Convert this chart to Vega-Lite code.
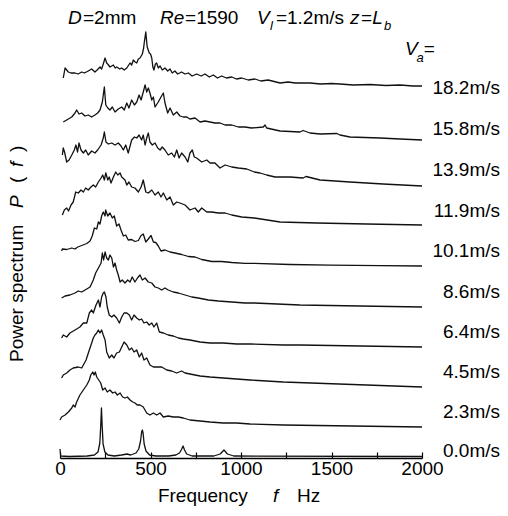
{
"$schema":"https://vega.github.io/schema/vega-lite/v6.json",
"width":362,"height":458,
"autosize":{"type":"none"},
"padding":{"left":60,"top":0,"right":86,"bottom":58},
"config":{"view":{"stroke":null},"text":{"font":"Liberation Sans","fontSize":19,"color":"black","align":"left","baseline":"alphabetic"}},
"datasets":{
"labels":[{"Va":"18.2m/s","level":370},{"Va":"15.8m/s","level":329},{"Va":"13.9m/s","level":288},{"Va":"11.9m/s","level":247},{"Va":"10.1m/s","level":207},{"Va":"8.6m/s","level":166},{"Va":"6.4m/s","level":126},{"Va":"4.5m/s","level":86},{"Va":"2.3m/s","level":46},{"Va":"0.0m/s","level":7}],
"spectra":[
{"Va":"18.2","f":18,"P":380},{"Va":"18.2","f":28,"P":390},{"Va":"18.2","f":37,"P":388},{"Va":"18.2","f":46,"P":386},{"Va":"18.2","f":60,"P":385},{"Va":"18.2","f":83,"P":385},{"Va":"18.2","f":100,"P":384},{"Va":"18.2","f":120,"P":386},{"Va":"18.2","f":135,"P":385},{"Va":"18.2","f":156,"P":387},{"Va":"18.2","f":175,"P":389},{"Va":"18.2","f":193,"P":386},{"Va":"18.2","f":205,"P":388},{"Va":"18.2","f":221,"P":391},{"Va":"18.2","f":230,"P":389},{"Va":"18.2","f":239,"P":394},{"Va":"18.2","f":249,"P":400},{"Va":"18.2","f":258,"P":395},{"Va":"18.2","f":268,"P":393},{"Va":"18.2","f":276,"P":391},{"Va":"18.2","f":295,"P":393},{"Va":"18.2","f":305,"P":390},{"Va":"18.2","f":313,"P":391},{"Va":"18.2","f":330,"P":389},{"Va":"18.2","f":341,"P":390},{"Va":"18.2","f":355,"P":388},{"Va":"18.2","f":369,"P":390},{"Va":"18.2","f":387,"P":395},{"Va":"18.2","f":396,"P":393},{"Va":"18.2","f":405,"P":398},{"Va":"18.2","f":415,"P":396},{"Va":"18.2","f":424,"P":395},{"Va":"18.2","f":433,"P":399},{"Va":"18.2","f":442,"P":400},{"Va":"18.2","f":455,"P":404},{"Va":"18.2","f":462,"P":410},{"Va":"18.2","f":466,"P":416},{"Va":"18.2","f":474,"P":426},{"Va":"18.2","f":478,"P":418},{"Va":"18.2","f":482,"P":411},{"Va":"18.2","f":493,"P":405},{"Va":"18.2","f":500,"P":404},{"Va":"18.2","f":507,"P":400},{"Va":"18.2","f":513,"P":391},{"Va":"18.2","f":519,"P":388},{"Va":"18.2","f":527,"P":394},{"Va":"18.2","f":534,"P":395},{"Va":"18.2","f":543,"P":390},{"Va":"18.2","f":553,"P":392},{"Va":"18.2","f":565,"P":388},{"Va":"18.2","f":580,"P":390},{"Va":"18.2","f":595,"P":387},{"Va":"18.2","f":608,"P":389},{"Va":"18.2","f":620,"P":385},{"Va":"18.2","f":635,"P":387},{"Va":"18.2","f":650,"P":384},{"Va":"18.2","f":672,"P":386},{"Va":"18.2","f":690,"P":384},{"Va":"18.2","f":709,"P":385},{"Va":"18.2","f":730,"P":382},{"Va":"18.2","f":755,"P":384},{"Va":"18.2","f":780,"P":382},{"Va":"18.2","f":801,"P":384},{"Va":"18.2","f":825,"P":381},{"Va":"18.2","f":847,"P":383},{"Va":"18.2","f":870,"P":380},{"Va":"18.2","f":893,"P":382},{"Va":"18.2","f":920,"P":380},{"Va":"18.2","f":949,"P":381},{"Va":"18.2","f":975,"P":379},{"Va":"18.2","f":1004,"P":380},{"Va":"18.2","f":1040,"P":378},{"Va":"18.2","f":1077,"P":379},{"Va":"18.2","f":1110,"P":377},{"Va":"18.2","f":1150,"P":378},{"Va":"18.2","f":1216,"P":375},{"Va":"18.2","f":1260,"P":376},{"Va":"18.2","f":1300,"P":375},{"Va":"18.2","f":1381,"P":375},{"Va":"18.2","f":1440,"P":374},{"Va":"18.2","f":1500,"P":374.5},{"Va":"18.2","f":1547,"P":374},{"Va":"18.2","f":1620,"P":373},{"Va":"18.2","f":1713,"P":373.5},{"Va":"18.2","f":1800,"P":372.5},{"Va":"18.2","f":1879,"P":373},{"Va":"18.2","f":1950,"P":372},{"Va":"18.2","f":2000,"P":372},
{"Va":"15.8","f":18,"P":336},{"Va":"15.8","f":37,"P":338},{"Va":"15.8","f":65,"P":341},{"Va":"15.8","f":83,"P":345},{"Va":"15.8","f":92,"P":348},{"Va":"15.8","f":105,"P":344},{"Va":"15.8","f":120,"P":345},{"Va":"15.8","f":138,"P":342},{"Va":"15.8","f":156,"P":343},{"Va":"15.8","f":175,"P":341},{"Va":"15.8","f":193,"P":343},{"Va":"15.8","f":208,"P":345},{"Va":"15.8","f":221,"P":348},{"Va":"15.8","f":234,"P":356},{"Va":"15.8","f":245,"P":371},{"Va":"15.8","f":253,"P":353},{"Va":"15.8","f":264,"P":350},{"Va":"15.8","f":276,"P":348},{"Va":"15.8","f":289,"P":351},{"Va":"15.8","f":304,"P":346},{"Va":"15.8","f":322,"P":349},{"Va":"15.8","f":341,"P":351},{"Va":"15.8","f":355,"P":348},{"Va":"15.8","f":369,"P":355},{"Va":"15.8","f":381,"P":350},{"Va":"15.8","f":396,"P":358},{"Va":"15.8","f":411,"P":353},{"Va":"15.8","f":424,"P":356},{"Va":"15.8","f":437,"P":363},{"Va":"15.8","f":448,"P":358},{"Va":"15.8","f":460,"P":366},{"Va":"15.8","f":470,"P":373},{"Va":"15.8","f":479,"P":366},{"Va":"15.8","f":488,"P":370},{"Va":"15.8","f":497,"P":365},{"Va":"15.8","f":507,"P":358},{"Va":"15.8","f":516,"P":361},{"Va":"15.8","f":525,"P":351},{"Va":"15.8","f":543,"P":356},{"Va":"15.8","f":558,"P":361},{"Va":"15.8","f":571,"P":365},{"Va":"15.8","f":580,"P":355},{"Va":"15.8","f":595,"P":345},{"Va":"15.8","f":608,"P":350},{"Va":"15.8","f":626,"P":343},{"Va":"15.8","f":645,"P":346},{"Va":"15.8","f":663,"P":342},{"Va":"15.8","f":681,"P":341},{"Va":"15.8","f":700,"P":341},{"Va":"15.8","f":718,"P":339},{"Va":"15.8","f":746,"P":340},{"Va":"15.8","f":774,"P":336},{"Va":"15.8","f":801,"P":337},{"Va":"15.8","f":829,"P":336},{"Va":"15.8","f":856,"P":335},{"Va":"15.8","f":884,"P":335},{"Va":"15.8","f":912,"P":333},{"Va":"15.8","f":949,"P":333},{"Va":"15.8","f":985,"P":331},{"Va":"15.8","f":1022,"P":331},{"Va":"15.8","f":1059,"P":330},{"Va":"15.8","f":1123,"P":331},{"Va":"15.8","f":1133,"P":333},{"Va":"15.8","f":1142,"P":330},{"Va":"15.8","f":1216,"P":327},{"Va":"15.8","f":1326,"P":326},{"Va":"15.8","f":1343,"P":327.5},{"Va":"15.8","f":1381,"P":325},{"Va":"15.8","f":1437,"P":324},{"Va":"15.8","f":1530,"P":324.5},{"Va":"15.8","f":1547,"P":323},{"Va":"15.8","f":1602,"P":321},{"Va":"15.8","f":1768,"P":320},{"Va":"15.8","f":1879,"P":319},{"Va":"15.8","f":2000,"P":318},
{"Va":"13.9","f":13,"P":303},{"Va":"13.9","f":18,"P":310},{"Va":"13.9","f":25,"P":306},{"Va":"13.9","f":37,"P":296},{"Va":"13.9","f":50,"P":298},{"Va":"13.9","f":65,"P":303},{"Va":"13.9","f":79,"P":308},{"Va":"13.9","f":88,"P":313},{"Va":"13.9","f":97,"P":306},{"Va":"13.9","f":105,"P":315},{"Va":"13.9","f":116,"P":308},{"Va":"13.9","f":129,"P":305},{"Va":"13.9","f":142,"P":308},{"Va":"13.9","f":156,"P":303},{"Va":"13.9","f":175,"P":307},{"Va":"13.9","f":193,"P":305},{"Va":"13.9","f":208,"P":308},{"Va":"13.9","f":227,"P":313},{"Va":"13.9","f":239,"P":320},{"Va":"13.9","f":245,"P":326},{"Va":"13.9","f":254,"P":316},{"Va":"13.9","f":267,"P":314},{"Va":"13.9","f":286,"P":315},{"Va":"13.9","f":304,"P":313},{"Va":"13.9","f":322,"P":315},{"Va":"13.9","f":337,"P":312},{"Va":"13.9","f":350,"P":308},{"Va":"13.9","f":363,"P":313},{"Va":"13.9","f":377,"P":305},{"Va":"13.9","f":396,"P":318},{"Va":"13.9","f":411,"P":321},{"Va":"13.9","f":424,"P":320},{"Va":"13.9","f":437,"P":323},{"Va":"13.9","f":451,"P":318},{"Va":"13.9","f":460,"P":323},{"Va":"13.9","f":470,"P":313},{"Va":"13.9","f":479,"P":320},{"Va":"13.9","f":488,"P":325},{"Va":"13.9","f":497,"P":316},{"Va":"13.9","f":510,"P":313},{"Va":"13.9","f":525,"P":315},{"Va":"13.9","f":540,"P":310},{"Va":"13.9","f":553,"P":308},{"Va":"13.9","f":565,"P":311},{"Va":"13.9","f":580,"P":308},{"Va":"13.9","f":598,"P":303},{"Va":"13.9","f":617,"P":305},{"Va":"13.9","f":632,"P":301},{"Va":"13.9","f":645,"P":308},{"Va":"13.9","f":658,"P":300},{"Va":"13.9","f":672,"P":305},{"Va":"13.9","f":691,"P":301},{"Va":"13.9","f":706,"P":296},{"Va":"13.9","f":718,"P":305},{"Va":"13.9","f":731,"P":308},{"Va":"13.9","f":742,"P":301},{"Va":"13.9","f":755,"P":300},{"Va":"13.9","f":783,"P":296},{"Va":"13.9","f":811,"P":298},{"Va":"13.9","f":829,"P":295},{"Va":"13.9","f":856,"P":295},{"Va":"13.9","f":884,"P":290},{"Va":"13.9","f":912,"P":293},{"Va":"13.9","f":949,"P":291},{"Va":"13.9","f":985,"P":290},{"Va":"13.9","f":1032,"P":289},{"Va":"13.9","f":1074,"P":286},{"Va":"13.9","f":1105,"P":285},{"Va":"13.9","f":1142,"P":283},{"Va":"13.9","f":1188,"P":281},{"Va":"13.9","f":1271,"P":281},{"Va":"13.9","f":1343,"P":280},{"Va":"13.9","f":1359,"P":281.5},{"Va":"13.9","f":1437,"P":278},{"Va":"13.9","f":1602,"P":276},{"Va":"13.9","f":1785,"P":274},{"Va":"13.9","f":2000,"P":272},
{"Va":"11.9","f":13,"P":243},{"Va":"11.9","f":24,"P":248},{"Va":"11.9","f":37,"P":250},{"Va":"11.9","f":47,"P":247},{"Va":"11.9","f":61,"P":253},{"Va":"11.9","f":73,"P":256},{"Va":"11.9","f":87,"P":266},{"Va":"11.9","f":101,"P":265},{"Va":"11.9","f":116,"P":268},{"Va":"11.9","f":129,"P":266},{"Va":"11.9","f":142,"P":270},{"Va":"11.9","f":156,"P":268},{"Va":"11.9","f":171,"P":271},{"Va":"11.9","f":184,"P":273},{"Va":"11.9","f":197,"P":271},{"Va":"11.9","f":212,"P":276},{"Va":"11.9","f":227,"P":280},{"Va":"11.9","f":236,"P":283},{"Va":"11.9","f":245,"P":278},{"Va":"11.9","f":253,"P":285},{"Va":"11.9","f":264,"P":278},{"Va":"11.9","f":272,"P":281},{"Va":"11.9","f":282,"P":275},{"Va":"11.9","f":295,"P":281},{"Va":"11.9","f":308,"P":286},{"Va":"11.9","f":319,"P":283},{"Va":"11.9","f":332,"P":285},{"Va":"11.9","f":341,"P":281},{"Va":"11.9","f":359,"P":278},{"Va":"11.9","f":369,"P":273},{"Va":"11.9","f":381,"P":276},{"Va":"11.9","f":396,"P":271},{"Va":"11.9","f":414,"P":270},{"Va":"11.9","f":433,"P":266},{"Va":"11.9","f":448,"P":271},{"Va":"11.9","f":460,"P":278},{"Va":"11.9","f":474,"P":266},{"Va":"11.9","f":488,"P":265},{"Va":"11.9","f":507,"P":268},{"Va":"11.9","f":525,"P":263},{"Va":"11.9","f":543,"P":266},{"Va":"11.9","f":558,"P":261},{"Va":"11.9","f":571,"P":265},{"Va":"11.9","f":590,"P":258},{"Va":"11.9","f":608,"P":261},{"Va":"11.9","f":626,"P":253},{"Va":"11.9","f":645,"P":256},{"Va":"11.9","f":663,"P":255},{"Va":"11.9","f":691,"P":253},{"Va":"11.9","f":718,"P":248},{"Va":"11.9","f":746,"P":250},{"Va":"11.9","f":764,"P":246},{"Va":"11.9","f":783,"P":250},{"Va":"11.9","f":811,"P":246},{"Va":"11.9","f":838,"P":246},{"Va":"11.9","f":875,"P":245},{"Va":"11.9","f":912,"P":245},{"Va":"11.9","f":949,"P":243},{"Va":"11.9","f":1004,"P":241},{"Va":"11.9","f":1074,"P":240},{"Va":"11.9","f":1216,"P":236},{"Va":"11.9","f":1418,"P":235},{"Va":"11.9","f":1695,"P":234},{"Va":"11.9","f":2000,"P":233},
{"Va":"10.1","f":9,"P":207},{"Va":"10.1","f":13,"P":209},{"Va":"10.1","f":37,"P":208.5},{"Va":"10.1","f":65,"P":210},{"Va":"10.1","f":83,"P":209},{"Va":"10.1","f":98,"P":211},{"Va":"10.1","f":120,"P":212.5},{"Va":"10.1","f":148,"P":214.5},{"Va":"10.1","f":166,"P":217},{"Va":"10.1","f":178,"P":222},{"Va":"10.1","f":190,"P":230},{"Va":"10.1","f":203,"P":229},{"Va":"10.1","f":212,"P":236},{"Va":"10.1","f":221,"P":234},{"Va":"10.1","f":230,"P":242},{"Va":"10.1","f":239,"P":246},{"Va":"10.1","f":249,"P":242},{"Va":"10.1","f":252,"P":248},{"Va":"10.1","f":264,"P":242},{"Va":"10.1","f":276,"P":245},{"Va":"10.1","f":289,"P":240},{"Va":"10.1","f":300,"P":242},{"Va":"10.1","f":313,"P":232},{"Va":"10.1","f":326,"P":234},{"Va":"10.1","f":337,"P":228},{"Va":"10.1","f":350,"P":222},{"Va":"10.1","f":363,"P":223},{"Va":"10.1","f":377,"P":218},{"Va":"10.1","f":396,"P":218.5},{"Va":"10.1","f":414,"P":216.5},{"Va":"10.1","f":433,"P":217.5},{"Va":"10.1","f":448,"P":222.5},{"Va":"10.1","f":460,"P":224},{"Va":"10.1","f":474,"P":216},{"Va":"10.1","f":488,"P":219},{"Va":"10.1","f":503,"P":222.5},{"Va":"10.1","f":516,"P":216},{"Va":"10.1","f":529,"P":215.5},{"Va":"10.1","f":543,"P":212},{"Va":"10.1","f":558,"P":207},{"Va":"10.1","f":580,"P":208},{"Va":"10.1","f":608,"P":206},{"Va":"10.1","f":635,"P":205},{"Va":"10.1","f":672,"P":203.5},{"Va":"10.1","f":709,"P":201.5},{"Va":"10.1","f":746,"P":201},{"Va":"10.1","f":783,"P":198.5},{"Va":"10.1","f":838,"P":196.5},{"Va":"10.1","f":893,"P":196.5},{"Va":"10.1","f":949,"P":195.5},{"Va":"10.1","f":1022,"P":194.7},{"Va":"10.1","f":1074,"P":194.7},{"Va":"10.1","f":1271,"P":193.5},{"Va":"10.1","f":1492,"P":192.8},{"Va":"10.1","f":1768,"P":192.3},{"Va":"10.1","f":2000,"P":192},
{"Va":"8.6","f":9,"P":160},{"Va":"8.6","f":28,"P":162},{"Va":"8.6","f":55,"P":163},{"Va":"8.6","f":83,"P":165},{"Va":"8.6","f":101,"P":167},{"Va":"8.6","f":120,"P":166},{"Va":"8.6","f":148,"P":169},{"Va":"8.6","f":166,"P":171},{"Va":"8.6","f":184,"P":178},{"Va":"8.6","f":197,"P":185},{"Va":"8.6","f":212,"P":190},{"Va":"8.6","f":227,"P":195},{"Va":"8.6","f":234,"P":205},{"Va":"8.6","f":241,"P":198},{"Va":"8.6","f":249,"P":206},{"Va":"8.6","f":258,"P":200},{"Va":"8.6","f":267,"P":198},{"Va":"8.6","f":276,"P":203},{"Va":"8.6","f":286,"P":200},{"Va":"8.6","f":295,"P":191},{"Va":"8.6","f":304,"P":195},{"Va":"8.6","f":313,"P":188},{"Va":"8.6","f":322,"P":183},{"Va":"8.6","f":332,"P":176},{"Va":"8.6","f":344,"P":178},{"Va":"8.6","f":359,"P":175},{"Va":"8.6","f":374,"P":178},{"Va":"8.6","f":387,"P":176},{"Va":"8.6","f":399,"P":181},{"Va":"8.6","f":414,"P":176},{"Va":"8.6","f":428,"P":180},{"Va":"8.6","f":442,"P":183},{"Va":"8.6","f":455,"P":178},{"Va":"8.6","f":470,"P":180},{"Va":"8.6","f":488,"P":176},{"Va":"8.6","f":507,"P":175},{"Va":"8.6","f":525,"P":171},{"Va":"8.6","f":543,"P":170},{"Va":"8.6","f":562,"P":168},{"Va":"8.6","f":580,"P":170},{"Va":"8.6","f":598,"P":168},{"Va":"8.6","f":626,"P":166},{"Va":"8.6","f":654,"P":165},{"Va":"8.6","f":691,"P":163},{"Va":"8.6","f":728,"P":161},{"Va":"8.6","f":764,"P":160},{"Va":"8.6","f":820,"P":158},{"Va":"8.6","f":875,"P":157},{"Va":"8.6","f":949,"P":156},{"Va":"8.6","f":1022,"P":155},{"Va":"8.6","f":1074,"P":155},{"Va":"8.6","f":1326,"P":153},{"Va":"8.6","f":1657,"P":152},{"Va":"8.6","f":2000,"P":151},
{"Va":"6.4","f":9,"P":120},{"Va":"6.4","f":18,"P":123},{"Va":"6.4","f":37,"P":121},{"Va":"6.4","f":55,"P":125},{"Va":"6.4","f":83,"P":128},{"Va":"6.4","f":110,"P":131},{"Va":"6.4","f":129,"P":135},{"Va":"6.4","f":148,"P":135},{"Va":"6.4","f":162,"P":145},{"Va":"6.4","f":175,"P":148},{"Va":"6.4","f":184,"P":145},{"Va":"6.4","f":199,"P":153},{"Va":"6.4","f":212,"P":158},{"Va":"6.4","f":221,"P":151},{"Va":"6.4","f":230,"P":161},{"Va":"6.4","f":239,"P":165},{"Va":"6.4","f":245,"P":166},{"Va":"6.4","f":254,"P":161},{"Va":"6.4","f":261,"P":151},{"Va":"6.4","f":272,"P":143},{"Va":"6.4","f":286,"P":141},{"Va":"6.4","f":298,"P":143},{"Va":"6.4","f":313,"P":140},{"Va":"6.4","f":328,"P":135},{"Va":"6.4","f":341,"P":141},{"Va":"6.4","f":354,"P":145},{"Va":"6.4","f":369,"P":145},{"Va":"6.4","f":383,"P":143},{"Va":"6.4","f":396,"P":138},{"Va":"6.4","f":409,"P":143},{"Va":"6.4","f":424,"P":140},{"Va":"6.4","f":438,"P":138},{"Va":"6.4","f":451,"P":139},{"Va":"6.4","f":464,"P":135},{"Va":"6.4","f":479,"P":136},{"Va":"6.4","f":493,"P":133},{"Va":"6.4","f":507,"P":135},{"Va":"6.4","f":519,"P":131},{"Va":"6.4","f":534,"P":135},{"Va":"6.4","f":549,"P":126},{"Va":"6.4","f":571,"P":125},{"Va":"6.4","f":598,"P":123},{"Va":"6.4","f":626,"P":122},{"Va":"6.4","f":654,"P":120},{"Va":"6.4","f":681,"P":119},{"Va":"6.4","f":718,"P":118},{"Va":"6.4","f":774,"P":116},{"Va":"6.4","f":829,"P":115},{"Va":"6.4","f":902,"P":115},{"Va":"6.4","f":976,"P":114},{"Va":"6.4","f":1050,"P":114},{"Va":"6.4","f":1234,"P":113},{"Va":"6.4","f":1326,"P":113},{"Va":"6.4","f":2000,"P":111},
{"Va":"4.5","f":9,"P":80},{"Va":"4.5","f":18,"P":83},{"Va":"4.5","f":37,"P":85},{"Va":"4.5","f":55,"P":88},{"Va":"4.5","f":73,"P":90},{"Va":"4.5","f":101,"P":91},{"Va":"4.5","f":120,"P":90},{"Va":"4.5","f":129,"P":93},{"Va":"4.5","f":144,"P":98},{"Va":"4.5","f":153,"P":103},{"Va":"4.5","f":162,"P":108},{"Va":"4.5","f":175,"P":115},{"Va":"4.5","f":184,"P":120},{"Va":"4.5","f":193,"P":123},{"Va":"4.5","f":203,"P":125},{"Va":"4.5","f":212,"P":128},{"Va":"4.5","f":221,"P":125},{"Va":"4.5","f":230,"P":128},{"Va":"4.5","f":239,"P":123},{"Va":"4.5","f":249,"P":118},{"Va":"4.5","f":258,"P":106},{"Va":"4.5","f":272,"P":100},{"Va":"4.5","f":286,"P":103},{"Va":"4.5","f":298,"P":100},{"Va":"4.5","f":313,"P":105},{"Va":"4.5","f":328,"P":106},{"Va":"4.5","f":341,"P":111},{"Va":"4.5","f":354,"P":116},{"Va":"4.5","f":369,"P":113},{"Va":"4.5","f":383,"P":108},{"Va":"4.5","f":396,"P":110},{"Va":"4.5","f":409,"P":106},{"Va":"4.5","f":424,"P":108},{"Va":"4.5","f":438,"P":101},{"Va":"4.5","f":451,"P":105},{"Va":"4.5","f":464,"P":98},{"Va":"4.5","f":479,"P":100},{"Va":"4.5","f":497,"P":93},{"Va":"4.5","f":516,"P":91},{"Va":"4.5","f":534,"P":91},{"Va":"4.5","f":562,"P":91},{"Va":"4.5","f":590,"P":88},{"Va":"4.5","f":617,"P":87},{"Va":"4.5","f":645,"P":85},{"Va":"4.5","f":672,"P":87},{"Va":"4.5","f":691,"P":85},{"Va":"4.5","f":718,"P":84},{"Va":"4.5","f":774,"P":82},{"Va":"4.5","f":829,"P":81},{"Va":"4.5","f":902,"P":80},{"Va":"4.5","f":976,"P":79},{"Va":"4.5","f":1050,"P":78},{"Va":"4.5","f":1234,"P":76},{"Va":"4.5","f":2000,"P":71},
{"Va":"2.3","f":0,"P":38},{"Va":"2.3","f":9,"P":41},{"Va":"2.3","f":28,"P":43},{"Va":"2.3","f":46,"P":46},{"Va":"2.3","f":65,"P":50},{"Va":"2.3","f":73,"P":53},{"Va":"2.3","f":83,"P":51},{"Va":"2.3","f":92,"P":56},{"Va":"2.3","f":110,"P":63},{"Va":"2.3","f":129,"P":68},{"Va":"2.3","f":148,"P":73},{"Va":"2.3","f":162,"P":78},{"Va":"2.3","f":170,"P":83},{"Va":"2.3","f":181,"P":86},{"Va":"2.3","f":188,"P":83},{"Va":"2.3","f":195,"P":86},{"Va":"2.3","f":203,"P":81},{"Va":"2.3","f":214,"P":78},{"Va":"2.3","f":225,"P":75},{"Va":"2.3","f":236,"P":68},{"Va":"2.3","f":249,"P":70},{"Va":"2.3","f":261,"P":66},{"Va":"2.3","f":276,"P":68},{"Va":"2.3","f":291,"P":65},{"Va":"2.3","f":304,"P":66},{"Va":"2.3","f":317,"P":63},{"Va":"2.3","f":332,"P":65},{"Va":"2.3","f":346,"P":61},{"Va":"2.3","f":359,"P":60},{"Va":"2.3","f":372,"P":61},{"Va":"2.3","f":387,"P":58},{"Va":"2.3","f":402,"P":56},{"Va":"2.3","f":414,"P":55},{"Va":"2.3","f":427,"P":53},{"Va":"2.3","f":442,"P":53},{"Va":"2.3","f":460,"P":51},{"Va":"2.3","f":479,"P":45},{"Va":"2.3","f":497,"P":43},{"Va":"2.3","f":516,"P":45},{"Va":"2.3","f":534,"P":43},{"Va":"2.3","f":553,"P":45},{"Va":"2.3","f":571,"P":41},{"Va":"2.3","f":598,"P":42},{"Va":"2.3","f":626,"P":41},{"Va":"2.3","f":654,"P":41},{"Va":"2.3","f":681,"P":40},{"Va":"2.3","f":718,"P":38},{"Va":"2.3","f":774,"P":37},{"Va":"2.3","f":829,"P":36},{"Va":"2.3","f":902,"P":35},{"Va":"2.3","f":976,"P":35},{"Va":"2.3","f":1050,"P":34},{"Va":"2.3","f":1234,"P":33},{"Va":"2.3","f":2000,"P":31},
{"Va":"0.0","f":0,"P":9},{"Va":"0.0","f":4,"P":2},{"Va":"0.0","f":50,"P":1.5},{"Va":"0.0","f":150,"P":2},{"Va":"0.0","f":190,"P":3},{"Va":"0.0","f":210,"P":6},{"Va":"0.0","f":220,"P":15},{"Va":"0.0","f":225,"P":32},{"Va":"0.0","f":229,"P":50},{"Va":"0.0","f":233,"P":32},{"Va":"0.0","f":238,"P":14},{"Va":"0.0","f":248,"P":6},{"Va":"0.0","f":265,"P":3},{"Va":"0.0","f":300,"P":2},{"Va":"0.0","f":340,"P":3},{"Va":"0.0","f":370,"P":4},{"Va":"0.0","f":390,"P":3},{"Va":"0.0","f":420,"P":5},{"Va":"0.0","f":435,"P":9},{"Va":"0.0","f":445,"P":17},{"Va":"0.0","f":451,"P":26},{"Va":"0.0","f":455,"P":28},{"Va":"0.0","f":459,"P":25},{"Va":"0.0","f":465,"P":14},{"Va":"0.0","f":475,"P":7},{"Va":"0.0","f":495,"P":3},{"Va":"0.0","f":530,"P":2},{"Va":"0.0","f":600,"P":2},{"Va":"0.0","f":640,"P":3},{"Va":"0.0","f":660,"P":5},{"Va":"0.0","f":670,"P":8},{"Va":"0.0","f":680,"P":12},{"Va":"0.0","f":688,"P":8},{"Va":"0.0","f":700,"P":4},{"Va":"0.0","f":730,"P":2},{"Va":"0.0","f":850,"P":2},{"Va":"0.0","f":885,"P":4},{"Va":"0.0","f":906,"P":8},{"Va":"0.0","f":925,"P":4},{"Va":"0.0","f":960,"P":2},{"Va":"0.0","f":2000,"P":1.5}
]},
"layer":[
{"data":{"name":"spectra"},"mark":{"type":"line","color":"#111","strokeWidth":1.3,"strokeJoin":"round"},
 "encoding":{
  "x":{"field":"f","type":"quantitative","scale":{"domain":[0,2000],"nice":false,"zero":false},
   "axis":{"values":[0,250,500,750,1000,1250,1500,1750,2000],"labelExpr":"datum.value % 500 === 0 ? datum.label : ''","format":"d","title":null,"grid":false,"domainColor":"black","domainWidth":1.6,"domainOpacity":1,"tickColor":"black","tickSize":-6,"tickWidth":1.2,"tickOpacity":1,"labelFont":"Liberation Sans","labelFontSize":19,"labelColor":"black","labelPadding":7,"labelFlush":false,"labelOverlap":false}},
  "y":{"field":"P","type":"quantitative","scale":{"domain":[0,458],"nice":false,"zero":false},"axis":null},
  "detail":{"field":"Va","type":"nominal"}}},
{"data":{"name":"labels"},"mark":{"type":"text","align":"right","baseline":"middle","dx":78,"fontSize":19},
 "encoding":{"x":{"datum":2000},"y":{"field":"level","type":"quantitative","axis":null},"text":{"field":"Va","type":"nominal"}}},
{"data":{"values":[{}]},"mark":{"type":"text","text":"D","fontStyle":"italic"},"encoding":{"x":{"datum":44},"y":{"datum":434,"axis":null}}},
{"data":{"values":[{}]},"mark":{"type":"text","text":"=2mm"},"encoding":{"x":{"datum":127},"y":{"datum":434,"axis":null}}},
{"data":{"values":[{}]},"mark":{"type":"text","text":"Re","fontStyle":"italic"},"encoding":{"x":{"datum":553},"y":{"datum":434,"axis":null}}},
{"data":{"values":[{}]},"mark":{"type":"text","text":"=1590"},"encoding":{"x":{"datum":691},"y":{"datum":434,"axis":null}}},
{"data":{"values":[{}]},"mark":{"type":"text","text":"V","fontStyle":"italic"},"encoding":{"x":{"datum":1088},"y":{"datum":434,"axis":null}}},
{"data":{"values":[{}]},"mark":{"type":"text","text":"l","fontStyle":"italic","fontSize":13},"encoding":{"x":{"datum":1160},"y":{"datum":428,"axis":null}}},
{"data":{"values":[{}]},"mark":{"type":"text","text":"=1.2m/s"},"encoding":{"x":{"datum":1193},"y":{"datum":434,"axis":null}}},
{"data":{"values":[{}]},"mark":{"type":"text","text":"z","fontStyle":"italic"},"encoding":{"x":{"datum":1602},"y":{"datum":434,"axis":null}}},
{"data":{"values":[{}]},"mark":{"type":"text","text":"="},"encoding":{"x":{"datum":1663},"y":{"datum":434,"axis":null}}},
{"data":{"values":[{}]},"mark":{"type":"text","text":"L","fontStyle":"italic"},"encoding":{"x":{"datum":1725},"y":{"datum":434,"axis":null}}},
{"data":{"values":[{}]},"mark":{"type":"text","text":"b","fontStyle":"italic","fontSize":13},"encoding":{"x":{"datum":1790},"y":{"datum":428,"axis":null}}},
{"data":{"values":[{}]},"mark":{"type":"text","text":"V","fontStyle":"italic"},"encoding":{"x":{"datum":1906},"y":{"datum":403,"axis":null}}},
{"data":{"values":[{}]},"mark":{"type":"text","text":"a","fontStyle":"italic","fontSize":13},"encoding":{"x":{"datum":1970},"y":{"datum":396,"axis":null}}},
{"data":{"values":[{}]},"mark":{"type":"text","text":"="},"encoding":{"x":{"datum":2010},"y":{"datum":403,"axis":null}}},
{"data":{"values":[{}]},"mark":{"type":"text","text":"Frequency"},"encoding":{"x":{"datum":541},"y":{"datum":-44,"axis":null}}},
{"data":{"values":[{}]},"mark":{"type":"text","text":"f","fontStyle":"italic"},"encoding":{"x":{"datum":1177},"y":{"datum":-44,"axis":null}}},
{"data":{"values":[{}]},"mark":{"type":"text","text":"Hz"},"encoding":{"x":{"datum":1309},"y":{"datum":-44,"axis":null}}},
{"data":{"values":[{}]},"mark":{"type":"text","text":"Power spectrum","angle":270},"encoding":{"x":{"datum":-204},"y":{"datum":96,"axis":null}}},
{"data":{"values":[{}]},"mark":{"type":"text","text":"P","fontStyle":"italic","angle":270},"encoding":{"x":{"datum":-204},"y":{"datum":250,"axis":null}}},
{"data":{"values":[{}]},"mark":{"type":"text","text":"(","angle":270},"encoding":{"x":{"datum":-204},"y":{"datum":275,"axis":null}}},
{"data":{"values":[{}]},"mark":{"type":"text","text":"f","fontStyle":"italic","angle":270},"encoding":{"x":{"datum":-204},"y":{"datum":291,"axis":null}}},
{"data":{"values":[{}]},"mark":{"type":"text","text":")","angle":270},"encoding":{"x":{"datum":-204},"y":{"datum":306,"axis":null}}}
]
}
